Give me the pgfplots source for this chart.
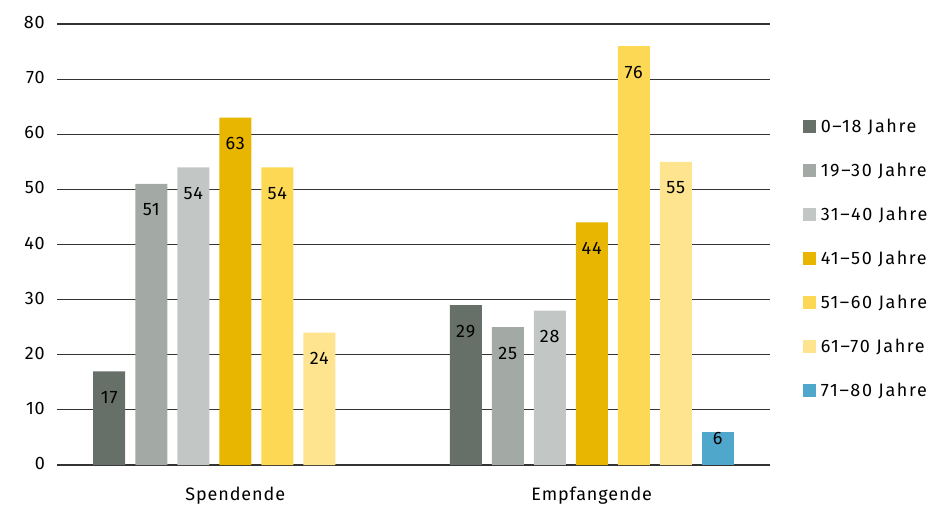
\documentclass[border=0pt]{standalone}
\usepackage{pgfplots}
\pgfplotsset{compat=1.18}
\usepackage{fontspec}
\setmainfont[LetterSpace=5]{Fira Sans}
\newfontfamily\legendfamily[LetterSpace=9]{Fira Sans}

% age-group palette
\definecolor{ageA}{HTML}{677068}
\definecolor{ageB}{HTML}{A3A9A4}
\definecolor{ageC}{HTML}{C2C7C5}
\definecolor{ageD}{HTML}{E8B500}
\definecolor{ageE}{HTML}{FDD855}
\definecolor{ageF}{HTML}{FEE48E}
\definecolor{ageG}{HTML}{4FA8CC}

\newcommand{\chartfont}{\fontsize{18}{20}\selectfont}

\begin{document}
\begin{tikzpicture}
% fixed page frame around the plot area
\useasboundingbox (-57pt,-39pt) rectangle (875pt,465pt);
\begin{axis}[
  at={(0pt,0pt)}, anchor=south west,
  width=713pt, height=441pt, scale only axis,
  ybar=10pt, bar width=32pt,
  xmin=-0.5, xmax=1.5, ymin=0, ymax=80,
  xtick={0,1}, xticklabels={Spendende,Empfangende},
  ytick={0,10,...,80},
  ymajorgrids,
  grid style={draw=black!80, line width=1.1pt},
  axis line style={draw=none},
  tick style={draw=none},
  font=\chartfont,
  /pgf/number format/assume math mode=true,
  ticklabel style={font=\chartfont},
  yticklabel style={inner sep=0pt, xshift=-12pt, yshift=1.5pt},
  xticklabel style={inner sep=0pt, anchor=base, yshift=-31pt},
  nodes near coords,
  every node near coord/.append style={anchor=center, inner sep=0pt,
    yshift=-26pt, text=black, font=\chartfont},
  legend cell align=left,
  legend image code/.code={\fill[#1] (0pt,-6.5pt) rectangle (13pt,6.5pt);},
  legend style={draw=none, fill=none, at={(1.046,0.785)}, anchor=north west,
    inner sep=0pt, outer sep=0pt, row sep=29pt, column sep=5pt,
    nodes={inner sep=0pt, anchor=west}, font=\legendfamily\chartfont},
]
\addplot[fill=ageA, draw=none] coordinates {(0,17) (1,29)};
\addplot[fill=ageB, draw=none] coordinates {(0,51) (1,25)};
\addplot[fill=ageC, draw=none] coordinates {(0,54) (1,28)};
\addplot[fill=ageD, draw=none] coordinates {(0,63) (1,44)};
\addplot[fill=ageE, draw=none] coordinates {(0,54) (1,76)};
\addplot[fill=ageF, draw=none] coordinates {(0,24) (1,55)};
\addplot[fill=ageG, draw=none,
  every node near coord/.append style={yshift=19pt}] coordinates {(1,6)};
\legend{0–18 Jahre,19–30 Jahre,31–40 Jahre,41–50 Jahre,51–60 Jahre,61–70 Jahre,71–80 Jahre}
\end{axis}
\end{tikzpicture}
\end{document}
